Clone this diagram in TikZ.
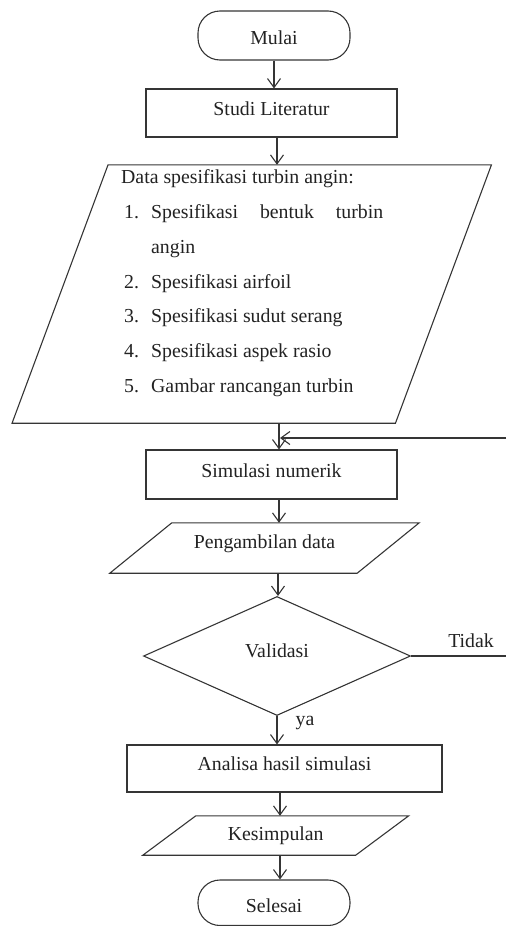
\documentclass[tikz,border=0pt]{standalone}
\usepackage{fontspec}
\setmainfont{Liberation Serif}
\usetikzlibrary{shapes.geometric,arrows.meta,calc}
\definecolor{ln}{HTML}{353535}
\definecolor{tx}{HTML}{222222}
\newcommand\txtup[2]{\raisebox{#1}[\height][\depth]{#2}}
\begin{document}
\begin{tikzpicture}[x=1pt,y=-1pt,
  every node/.style={text=tx,font=\fontsize{19.8}{24}\selectfont,inner sep=0pt},
  box/.style={draw=ln,line width=1.1pt,rectangle},
  term/.style={draw=ln,line width=1.1pt,rectangle,rounded corners=22pt},
  ghost/.style={rectangle,draw=none},
  dia/.style={draw=ln,line width=1.1pt,diamond},
  outl/.style={draw=ln,line width=1.1pt},
  arr/.style={draw=ln,line width=1.1pt,-{Straight Barb[length=9pt,width=13pt,line width=1.1pt]}},
  conn/.style={draw=ln,line width=1.1pt}]
\useasboundingbox (0,0) rectangle (506,926);

% nodes
\node[term,minimum width=152pt,minimum height=49pt] (mulai) at (274,35.5) {\txtup{-2pt}{Mulai}};
\node[box,minimum width=251pt,minimum height=48pt] (studi) at (271.5,113) {\txtup{4pt}{Studi Literatur}};
\node[ghost,minimum width=383pt,minimum height=258pt] (data) at (251.75,294) {};
\node[anchor=north west,align=left,font=\fontsize{19.8}{34.8}\selectfont] (datatxt) at (121,169.5) {%
Data spesifikasi turbin angin:\\
\hspace*{3pt}\makebox[27pt][l]{1.}\makebox[232pt][s]{Spesifikasi bentuk turbin}\\
\hspace*{30pt}angin\\
\hspace*{3pt}\makebox[27pt][l]{2.}Spesifikasi airfoil\\
\hspace*{3pt}\makebox[27pt][l]{3.}Spesifikasi sudut serang\\
\hspace*{3pt}\makebox[27pt][l]{4.}Spesifikasi aspek rasio\\
\hspace*{3pt}\makebox[27pt][l]{5.}Gambar rancangan turbin};
\node[box,minimum width=251pt,minimum height=49pt] (sim) at (271.5,474.5) {\txtup{4pt}{Simulasi numerik}};
\node[ghost,minimum width=247pt,minimum height=50pt] (ambil) at (264.5,548) {\txtup{4pt}{Pengambilan data}};
\node[dia,minimum width=267pt,minimum height=119pt] (val) at (277,656) {\txtup{5pt}{Validasi}};
\node[box,minimum width=315pt,minimum height=47pt] (anal) at (284.5,768.5) {\txtup{5pt}{Analisa hasil simulasi}};
\node[ghost,minimum width=212.5pt,minimum height=39pt] (kes) at (275.75,835.5) {Kesimpulan};
\node[term,minimum width=152pt,minimum height=45.5pt] (sel) at (274,902.75) {\txtup{-3pt}{Selesai}};
\node (tidak) at (471,641) {Tidak};
\node (ya) at (305,723) {ya};

% parallelogram outlines
\draw[outl] ($(data.north west)+(48,0)$) -- ($(data.north east)+(48,0)$) -- ($(data.south east)-(48,0)$) -- ($(data.south west)-(48,0)$) -- cycle;
\draw[outl] ($(ambil.north west)+(31,0)$) -- ($(ambil.north east)+(31,0)$) -- ($(ambil.south east)-(31,0)$) -- ($(ambil.south west)-(31,0)$) -- cycle;
\draw[outl] ($(kes.north west)+(26.5,0)$) -- ($(kes.north east)+(26.5,0)$) -- ($(kes.south east)-(26.5,0)$) -- ($(kes.south west)-(26.5,0)$) -- cycle;

% loop ends at the picture edge
\coordinate (fbend) at (506,438);
\coordinate (fbjoin) at (280,438);
\coordinate (tidakend) at (506,656);

% connectors
\draw[arr] (mulai.south) -- (mulai.south |- studi.north);
\draw[arr] ([xshift=5.5pt]studi.south) -- ([xshift=5.5pt]studi.south |- data.north);
\draw[arr] ([xshift=7.5pt]sim.north |- data.south) -- ([xshift=7.5pt]sim.north);
\draw[arr] (fbend) -- (fbjoin);
\draw[arr] ([xshift=7.5pt]sim.south) -- ([xshift=7.5pt]sim.south |- ambil.north);
\draw[arr] ([xshift=1pt]val.north |- ambil.south) -- ([xshift=1pt]val.north);
\draw[arr] (val.south) -- (val.south |- anal.north);
\draw[conn] (val.east) -- (tidakend);
\draw[arr] ([xshift=3pt]val.south |- anal.south) -- ([xshift=3pt]val.south |- kes.north);
\draw[arr] ([xshift=3pt]val.south |- kes.south) -- ([xshift=3pt]val.south |- sel.north);
\end{tikzpicture}
\end{document}
